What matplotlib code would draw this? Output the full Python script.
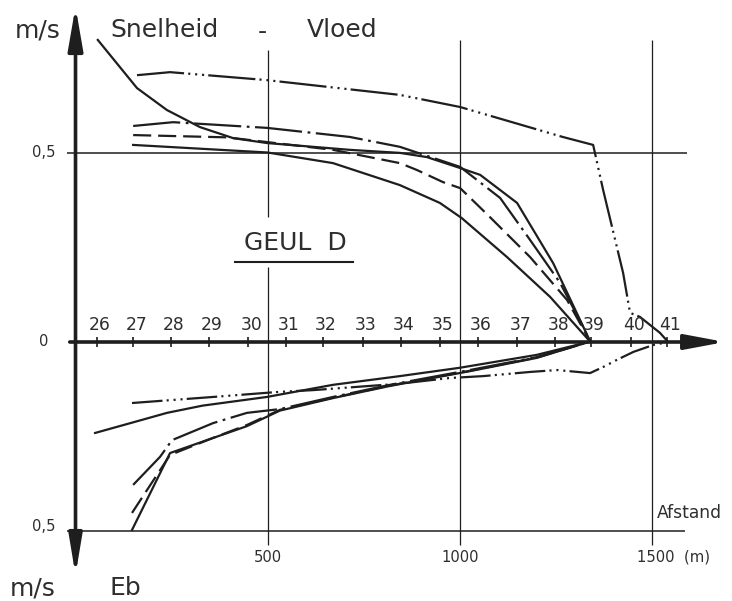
import matplotlib
matplotlib.use('Agg')
import matplotlib.pyplot as plt
from matplotlib import font_manager

# Stations langs de geul (nummer en afstand in m)
stations = ['26', '27', '28', '29', '30', '31', '32', '33', '34', '35',
            '36', '37', '38', '39', '40', '41']
station_x = [55, 150, 248, 347, 449, 548, 644, 748, 847, 948,
             1047, 1149, 1248, 1341, 1445, 1540]

# Vloed (boven de as), snelheid in m/s
vl_solid_a_x = [150, 500, 670, 844, 948, 1005, 1123, 1235, 1340]
vl_solid_a_v = [0.52, 0.50, 0.472, 0.414, 0.367, 0.327, 0.224, 0.119, 0.0]

vl_solid_b_x = [58, 160, 238, 324, 410, 498, 714, 844, 914, 1001, 1053, 1149, 1243, 1340]
vl_solid_b_v = [0.797, 0.670, 0.612, 0.567, 0.538, 0.525, 0.507, 0.499, 0.488, 0.459,
                0.441, 0.367, 0.208, 0.0]

vl_dash_x = [150, 394, 670, 844, 888, 956, 1001, 1078, 1183, 1279, 1340]
vl_dash_v = [0.546, 0.540, 0.507, 0.472, 0.454, 0.422, 0.406, 0.330, 0.224, 0.111, 0.0]

vl_dashdot_x = [150, 254, 498, 714, 844, 1001, 1105, 1183, 1261, 1321, 1340]
vl_dashdot_v = [0.570, 0.580, 0.565, 0.541, 0.515, 0.462, 0.380, 0.269, 0.156, 0.040, 0.0]

vl_dd_x = [160, 246, 498, 844, 1001, 1268, 1347, 1373, 1425, 1443, 1469, 1521, 1542]
vl_dd_v = [0.704, 0.712, 0.691, 0.652, 0.620, 0.541, 0.520, 0.401, 0.182, 0.077,
           0.066, 0.024, 0.0]

# Eb (onder de as)
eb_solid_a_x = [51, 150, 238, 330, 498, 670, 844, 1000, 1200, 1335]
eb_solid_a_v = [-0.240, -0.212, -0.187, -0.168, -0.145, -0.113, -0.090, -0.068, -0.034, 0.0]

eb_solid_b_x = [147, 246, 446, 532, 670, 818, 1026, 1200, 1335]
eb_solid_b_v = [-0.496, -0.293, -0.222, -0.181, -0.148, -0.116, -0.077, -0.042, 0.0]

eb_dash_x = [147, 246, 358, 446, 532, 670, 818, 1026, 1200, 1335]
eb_dash_v = [-0.451, -0.298, -0.253, -0.219, -0.179, -0.147, -0.115, -0.076, -0.041, 0.0]

eb_dashdot_x = [150, 220, 251, 358, 446, 532, 670, 818, 1026, 1200, 1335]
eb_dashdot_v = [-0.377, -0.303, -0.259, -0.214, -0.187, -0.177, -0.145, -0.113, -0.074,
                -0.040, 0.0]

eb_dd_x = [147, 358, 524, 618, 844, 974, 1061, 1183, 1253, 1339, 1373, 1409, 1452, 1503, 1542]
eb_dd_v = [-0.161, -0.145, -0.132, -0.127, -0.110, -0.095, -0.090, -0.079, -0.074, -0.082,
           -0.066, -0.047, -0.026, -0.008, 0.0]

grid_x = [500, 1000, 1500]
grid_labels = ['500', '1000', '1500  (m)']

#%% lettertype
names = {f.name for f in font_manager.fontManager.ttflist}
if 'Liberation Sans Narrow' in names:
    font = 'Liberation Sans Narrow'
    k = 1.0
else:
    font = 'DejaVu Sans'
    k = 0.82
plt.rcParams['font.family'] = [font, 'DejaVu Sans']
plt.rcParams['lines.scale_dashes'] = False

ink = '#1e1e1e'
txt = '#2e2e2e'

fig = plt.figure(figsize=(7.32, 6.01), dpi=100)
ax = fig.add_axes([0, 0, 1, 1])
ax.set_xlim(-196.5, 1708.3)
ax.set_ylim(-0.6834, 0.9024)
ax.axis('off')

#%% rasterlijnen
ax.vlines(500, 0.198, -0.536, color=ink, lw=0.9)
ax.vlines(500, 0.770, 0.330, color=ink, lw=0.9)
ax.vlines([1000, 1500], -0.536, 0.797, color=ink, lw=0.9)
ax.hlines(0.5, -22, 1591, color=ink, lw=1.1)
ax.hlines(-0.5, -22, 1586, color=ink, lw=1.1)

#%% curves
dd = (0, (34, 3, 1.5, 3.5, 1.5, 3.5, 1.5, 3))
dashdot = (0, (34, 4, 2, 4))
dashed = (0, (13, 5))
lw = 1.6

ax.plot(vl_solid_a_x, vl_solid_a_v, color=ink, lw=lw)
ax.plot(vl_solid_b_x, vl_solid_b_v, color=ink, lw=lw)
ax.plot(vl_dash_x, vl_dash_v, color=ink, lw=lw, linestyle=dashed)
ax.plot(vl_dashdot_x, vl_dashdot_v, color=ink, lw=lw, linestyle=dashdot)
ax.plot(vl_dd_x, vl_dd_v, color=ink, lw=lw, linestyle=dd)

ax.plot(eb_solid_a_x, eb_solid_a_v, color=ink, lw=lw)
ax.plot(eb_solid_b_x, eb_solid_b_v, color=ink, lw=lw)
ax.plot(eb_dash_x, eb_dash_v, color=ink, lw=lw, linestyle=dashed)
ax.plot(eb_dashdot_x, eb_dashdot_v, color=ink, lw=lw, linestyle=dashdot)
ax.plot(eb_dd_x, eb_dd_v, color=ink, lw=lw, linestyle=(0, (22, 3, 1.5, 3.5, 1.5, 3.5, 1.5, 3)))

#%% assen met pijlen
ax.annotate('', xy=(1690, 0), xytext=(-15, 0),
            arrowprops=dict(arrowstyle='-|>,head_length=2.4,head_width=0.45',
                            mutation_scale=10, lw=2.6, color=ink, shrinkA=0, shrinkB=0))
ax.annotate('', xy=(0, 0.885), xytext=(0, 0),
            arrowprops=dict(arrowstyle='-|>,head_length=2.6,head_width=0.45',
                            mutation_scale=10, lw=2.6, color=ink, shrinkA=0, shrinkB=0))
ax.annotate('', xy=(0, -0.615), xytext=(0, 0),
            arrowprops=dict(arrowstyle='-|>,head_length=2.4,head_width=0.4',
                            mutation_scale=10, lw=2.6, color=ink, shrinkA=0, shrinkB=0))

# stationsstreepjes en nummers
ax.vlines(station_x, -0.014, 0.014, color=ink, lw=1.2)
for sx, s in zip(station_x, stations):
    ax.text(sx + 8, 0.044, s, ha='center', va='center', fontsize=15 * k, color=txt)

ax.text(grid_x[0], -0.568, grid_labels[0], ha='center', va='center', fontsize=13 * k, color=txt)
ax.text(grid_x[1], -0.568, grid_labels[1], ha='center', va='center', fontsize=13 * k, color=txt)
ax.text(grid_x[2] - 40, -0.568, grid_labels[2], ha='left', va='center', fontsize=13 * k, color=txt)

#%% teksten
ax.text(-82, 0.5, '0,5', ha='center', va='center', fontsize=13 * k, color=txt)
ax.text(-82, -0.488, '0,5', ha='center', va='center', fontsize=13 * k, color=txt)
ax.text(-82, 0.0, '0', ha='center', va='center', fontsize=13 * k, color=txt)

ax.text(15 / 732, 1 - 30 / 601, 'm/s', transform=ax.transAxes, ha='left', va='center',
        fontsize=22 * k, color=txt)
ax.text(110 / 732, 1 - 30 / 601, 'Snelheid', transform=ax.transAxes, ha='left', va='center',
        fontsize=22 * k, color=txt)
ax.text(262 / 732, 1 - 32 / 601, '-', transform=ax.transAxes, ha='center', va='center',
        fontsize=22 * k, color=txt)
ax.text(307 / 732, 1 - 30 / 601, 'Vloed', transform=ax.transAxes, ha='left', va='center',
        fontsize=22 * k, color=txt)

ax.text(295 / 732, 1 - 243 / 601, 'GEUL  D', transform=ax.transAxes, ha='center', va='center',
        fontsize=22 * k, color=txt)
ax.plot([235 / 732, 353 / 732], [1 - 262 / 601, 1 - 262 / 601], transform=ax.transAxes,
        color=ink, lw=1.5)

ax.text(657 / 732, 1 - 513 / 601, 'Afstand', transform=ax.transAxes, ha='left', va='center',
        fontsize=15 * k, color=txt)
ax.text(10 / 732, 1 - 588 / 601, 'm/s', transform=ax.transAxes, ha='left', va='center',
        fontsize=22 * k, color=txt)
ax.text(110 / 732, 1 - 588 / 601, 'Eb', transform=ax.transAxes, ha='left', va='center',
        fontsize=22 * k, color=txt)

fig.savefig('out.png', dpi=100, facecolor='white')
